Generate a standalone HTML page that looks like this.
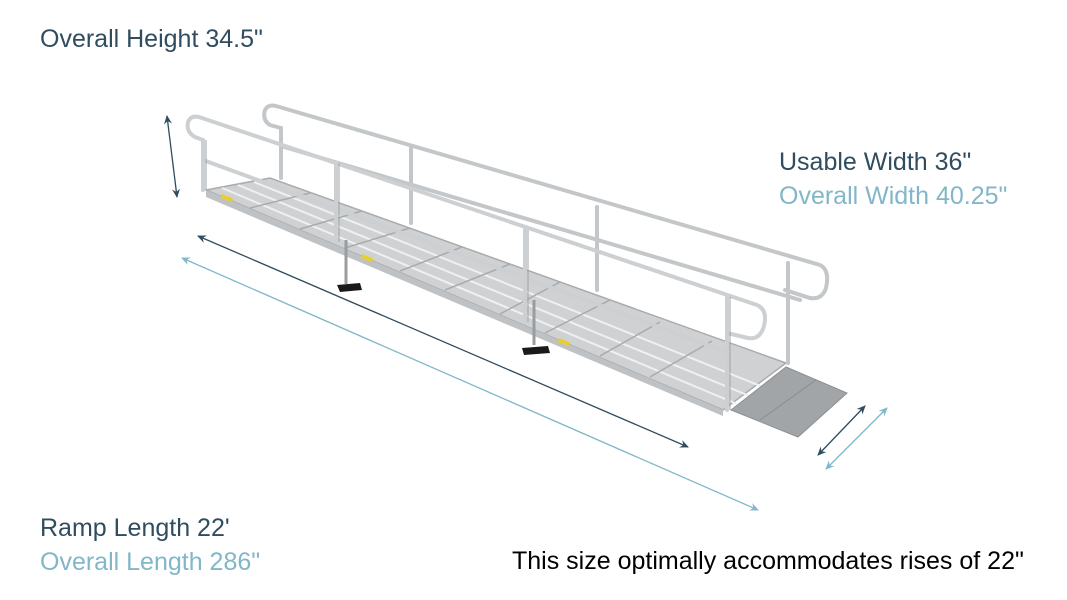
<!DOCTYPE html>
<html><head><meta charset="utf-8"><style>
html,body{margin:0;padding:0;background:#fff;}
body{width:1067px;height:600px;position:relative;overflow:hidden;font-family:"Liberation Sans",sans-serif;}
.t{position:absolute;font-size:25px;white-space:nowrap;}
.d{color:#2f4d5f}.l{color:#82b6c9}.k{color:#000}
svg{position:absolute;left:0;top:0}
</style></head><body>
<svg width="1067" height="600" viewBox="0 0 1067 600">
<defs>
<marker id="ad" markerWidth="10" markerHeight="10" refX="8" refY="5" orient="auto-start-reverse" markerUnits="userSpaceOnUse"><path d="M0,1 L9,5 L0,9 L3,5z" fill="#2f4d5f"/></marker>
<marker id="al" markerWidth="10" markerHeight="10" refX="8" refY="5" orient="auto-start-reverse" markerUnits="userSpaceOnUse"><path d="M0,1 L9,5 L0,9 L3,5z" fill="#82b6c9"/></marker>
</defs>
<!-- deck -->
<polygon points="206,190 270,178 786,363 723,410" fill="#cfd1d3" stroke="#a9acae" stroke-width="1.5"/>
<polygon points="206,190 723,410 723,416 206,197" fill="#bfc2c4"/>
<g stroke="#eef0f1" stroke-width="2">
<line x1="222" y1="188" x2="737" y2="404"/><line x1="238" y1="185" x2="752" y2="397"/><line x1="254" y1="182" x2="768" y2="389"/>
</g>
<g stroke="#a8abae" stroke-width="1.5">
<line x1="250" y1="208" x2="310" y2="193"/><line x1="300" y1="229" x2="362" y2="211"/><line x1="345" y1="248" x2="410" y2="228"/><line x1="400" y1="271" x2="462" y2="247"/><line x1="445" y1="290" x2="510" y2="264"/><line x1="500" y1="314" x2="560" y2="282"/><line x1="545" y1="333" x2="610" y2="300"/><line x1="600" y1="356" x2="660" y2="322"/><line x1="650" y1="377" x2="712" y2="341"/>
</g>
<rect x="222" y="194" width="12" height="4" fill="#e6cf2e" transform="rotate(22 222 194)"/>
<rect x="362" y="254" width="12" height="4" fill="#e6cf2e" transform="rotate(22 362 254)"/>
<rect x="559" y="338" width="12" height="4" fill="#e6cf2e" transform="rotate(22 559 338)"/>
<!-- plate -->
<polygon points="731,410 786,367 847,393 798,437" fill="#a2a5a8" stroke="#8d9093"/>
<line x1="760" y1="420" x2="816" y2="380" stroke="#8a8d90"/>
<!-- legs -->
<g stroke="#9a9da0" stroke-width="3"><line x1="346" y1="240" x2="346" y2="284"/><line x1="534" y1="300" x2="534" y2="345"/></g>
<polygon points="337,285 360,283 362,290 340,292" fill="#1a1a1a"/>
<polygon points="522,348 548,346 550,353 524,355" fill="#1a1a1a"/>
<!-- back rail -->
<g fill="none" stroke="#c4c7c9" stroke-width="4" stroke-linecap="round">
<path d="M281,128 L270,125 Q262,120 265,110 Q268,104 276,106 L820,265 Q830,270 826,288 Q822,300 810,298 L785,290"/>
<path d="M281,146 L800,300"/>
<line x1="281" y1="128" x2="281" y2="178"/>
<line x1="411" y1="147" x2="411" y2="223"/>
<line x1="597" y1="207" x2="597" y2="290"/>
<line x1="788" y1="263" x2="788" y2="363"/>
</g>
<!-- front rail -->
<g fill="none" stroke="#cdd0d2" stroke-width="4" stroke-linecap="round">
<path d="M203,140 L195,137 Q186,132 188,122 Q191,115 199,117 L757,305 Q768,310 764,326 Q760,340 748,338 L727,333"/>
<path d="M203,160 L727,352"/>
<line x1="203" y1="140" x2="203" y2="190"/>
<line x1="336" y1="163" x2="336" y2="242"/>
<line x1="525" y1="230" x2="525" y2="322"/>
<line x1="727" y1="297" x2="727" y2="410"/>
</g>
<g stroke="#9fa2a5" stroke-width="1"><line x1="206" y1="140" x2="206" y2="190"/><line x1="339" y1="163" x2="339" y2="242"/><line x1="528" y1="230" x2="528" y2="322"/><line x1="730" y1="297" x2="730" y2="410"/></g>
<!-- arrows -->
<line x1="167" y1="116" x2="177" y2="197" stroke="#2f4d5f" stroke-width="1.3" marker-start="url(#ad)" marker-end="url(#ad)"/>
<line x1="198" y1="236" x2="688" y2="447" stroke="#2f4d5f" stroke-width="1.3" marker-start="url(#ad)" marker-end="url(#ad)"/>
<line x1="182" y1="258" x2="758" y2="510" stroke="#82b6c9" stroke-width="1.3" marker-start="url(#al)" marker-end="url(#al)"/>
<line x1="865" y1="406" x2="818" y2="455" stroke="#2f4d5f" stroke-width="1.3" marker-start="url(#ad)" marker-end="url(#ad)"/>
<line x1="887" y1="408" x2="826" y2="469" stroke="#82b6c9" stroke-width="1.3" marker-start="url(#al)" marker-end="url(#al)"/>
</svg>
<div class="t d" style="left:40px;top:25px">Overall Height 34.5"</div>
<div class="t d" style="left:779px;top:148px">Usable Width 36"</div>
<div class="t l" style="left:779px;top:182px">Overall Width 40.25"</div>
<div class="t d" style="left:40px;top:514px">Ramp Length 22'</div>
<div class="t l" style="left:40px;top:548px">Overall Length 286"</div>
<div class="t k" style="left:512px;top:547px">This size optimally accommodates rises of 22"</div>
</body></html>
